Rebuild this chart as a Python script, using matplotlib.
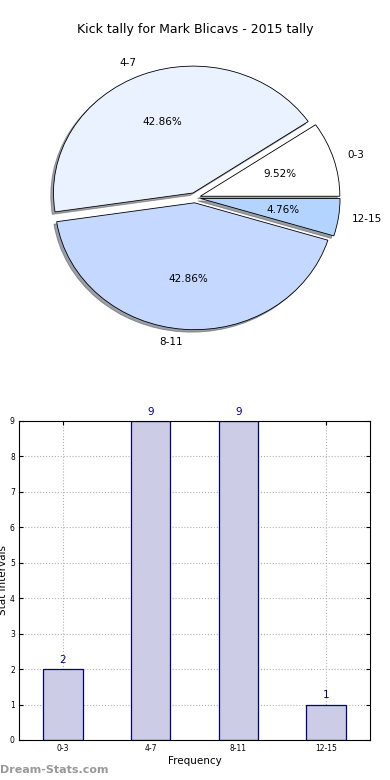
import numpy as np
import matplotlib
matplotlib.use('Agg')
import matplotlib.pyplot as plt

# données
intervalles = ['0-3', '4-7', '8-11', '12-15']
frequences = [2, 9, 9, 1]
couleurs_pie = ['#ffffff', '#eaf1ff', '#c5d8ff', '#b3d4ff']

plt.rcParams['font.family'] = 'DejaVu Sans'

fig = plt.figure(figsize=(3.9, 7.8), dpi=100)

# camembert
ax1 = fig.add_axes([0.035, 0.535, 0.93, 0.423])
wedges, textes, pcts = ax1.pie(frequences, labels=intervalles, colors=couleurs_pie,
                               explode=[0.04] * len(frequences),
                               shadow={'ox': -0.014, 'oy': -0.014, 'shade': 0.7},
                               autopct='%.2f%%', startangle=0,
                               wedgeprops={'edgecolor': 'black', 'linewidth': 0.6},
                               textprops={'fontsize': 7.5})
ax1.set_aspect('auto')
ax1.set_xlim(-1.3, 1.3)
ax1.set_ylim(-1.3, 1.3)
fig.text(0.5, 1 - 30 / 780, 'Kick tally for Mark Blicavs - 2015 tally',
         ha='center', va='center', fontsize=9)

# histogramme
ax2 = fig.add_axes([0.0487, 0.0513, 0.90, 0.409])
x = np.arange(len(intervalles))
barres = ax2.bar(x, frequences, width=0.45, color='#cccce6', edgecolor='#000080',
                 linewidth=0.9, zorder=2)
for xi, v in zip(x, frequences):
    ax2.text(xi, v + 0.12, str(v), ha='center', va='bottom', color='#000080', fontsize=7.5)
ax2.set_xlim(-0.5, 3.5)
ax2.set_ylim(0, 9)
ax2.set_xticks(x)
ax2.set_xticklabels(intervalles)
ax2.set_yticks(range(10))
ax2.tick_params(labelsize=5.5, direction='in', top=True, right=True, length=3, pad=3)
ax2.grid(True, linestyle=':', color='#b0b0b0', linewidth=0.8, zorder=0)
ax2.set_axisbelow(True)
ax2.set_xlabel('Frequency', fontsize=7.5, labelpad=2)
ax2.set_ylabel('Stat Intervals', fontsize=7.5)
ax2.yaxis.set_label_coords(-0.03, 0.5)

fig.text(0.0, 1 - 770 / 780, 'Dream-Stats.com', ha='left', va='center',
         color='#999999', fontsize=8, fontweight='bold')

fig.savefig('out.png', dpi=100)
